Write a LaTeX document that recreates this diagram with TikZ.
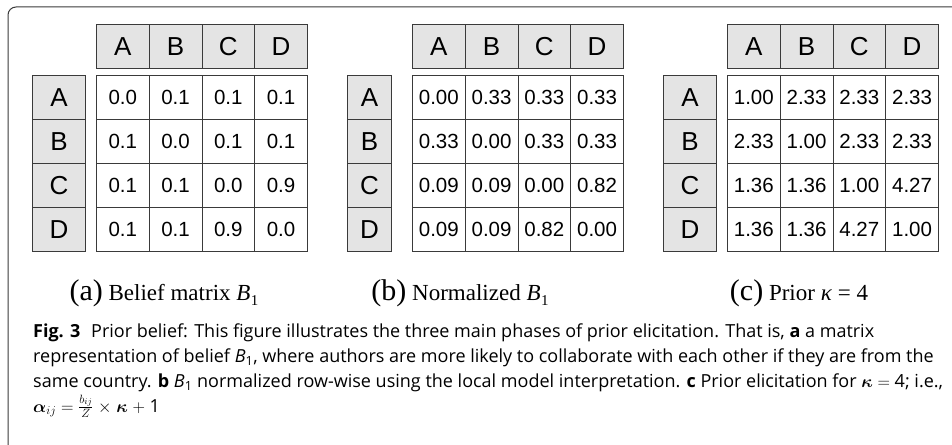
\documentclass[tikz,border=0pt]{standalone}
\usepackage{amsmath,amssymb,bm}
\usepackage{fontspec}
\setsansfont{Liberation Sans}
\newfontfamily\capserif{Liberation Serif}
\newfontfamily\capsans{Open Sans}
\usepackage{tikz}
\usetikzlibrary{positioning}

\definecolor{headgray}{HTML}{E4E4E4}
\definecolor{gridline}{HTML}{3A3A3A}

% one belief table: #1 name, #2 left of data, #3 left of row heads, #4 width of row heads, #5 rows
\newcommand{\beliefgrid}[5]{%
  \foreach \c [count=\j from 0] in {A,B,C,D}
    \node[headcell] (#1-h\c) at ({#2+\j*52.75},24) {\c};
  \foreach \c [count=\i from 0] in {A,B,C,D}
    \node[headcell,minimum width=#4] (#1-r\c) at (#3,{75+\i*44}) {\c};
  \foreach \r [count=\i from 0] in {#5}
    \foreach \v [count=\j from 0] in \r
      \node[valcell] (#1-\i\j) at ({#2+\j*52.75},{75+\i*44}) {\v};
}
\newcommand{\bigtag}[1]{{\fontsize{30}{30}\selectfont(#1)}}
\newcommand{\Bone}{\textit{B}\kern0.5pt\raisebox{-0.22em}{\fontsize{15}{15}\selectfont 1}}

\begin{document}
\begin{tikzpicture}[x=1pt,y=-1pt,
  cell/.style={draw=gridline,line width=0.9pt,anchor=north west,inner sep=0pt,
    minimum width=52.75pt,minimum height=44pt},
  headcell/.style={cell,fill=headgray,font=\sffamily\fontsize{26}{30}\selectfont},
  valcell/.style={cell,fill=white,font=\sffamily\fontsize{20.5}{24}\selectfont},
  sublabel/.style={anchor=base,inner sep=0pt,font=\capserif\fontsize{23}{28}\selectfont},
  capline/.style={anchor=base west,inner sep=0pt,font=\capsans\fontsize{18}{25}\selectfont}]
\useasboundingbox (0,0) rectangle (952,444);

% frame
\draw[gridline,line width=1pt,rounded corners=8pt] (960,7) -- (8,7) -- (8,452);

% tables
\beliefgrid{a}{96}{32}{53pt}{{0.0,0.1,0.1,0.1},{0.1,0.0,0.1,0.1},{0.1,0.1,0.0,0.9},{0.1,0.1,0.9,0.0}}
\beliefgrid{b}{412}{347}{44pt}{{0.00,0.33,0.33,0.33},{0.33,0.00,0.33,0.33},{0.09,0.09,0.00,0.82},{0.09,0.09,0.82,0.00}}
\beliefgrid{c}{727}{663}{53pt}{{1.00,2.33,2.33,2.33},{2.33,1.00,2.33,2.33},{1.36,1.36,1.00,4.27},{1.36,1.36,4.27,1.00}}

% sub-captions
\node[sublabel] (sa) at (164,300) {\bigtag{a} Belief matrix \Bone};
\node[sublabel] (sb) at (460,300) {\bigtag{b} Normalized \Bone};
\node[sublabel] (sc) at (799,300) {\bigtag{c} Prior \textit{κ} = 4};

% figure caption
\node[capline] (cap1) at (33,337) {\textbf{Fig. 3}\hspace{0.6em}Prior belief: This figure illustrates the three main phases of prior elicitation. That is, \textbf{a} a matrix};
\node[capline] (cap2) at (33,362) {representation of belief \textit{B}\textsubscript{1}, where authors are more likely to collaborate with each other if they are from the};
\node[capline] (cap3) at (33,387) {same country. \textbf{b} \textit{B}\textsubscript{1} normalized row-wise using the local model interpretation. \textbf{c} Prior elicitation for $\bm{\kappa}$ $=$ 4; i.e.,};
\node[capline] (cap4) at (33,412) {$\bm{\alpha}_{ij}$ $=$ $\frac{b_{ij}}{Z}$ $\times$ $\bm{\kappa}$ $+$ 1};
\end{tikzpicture}
\end{document}
